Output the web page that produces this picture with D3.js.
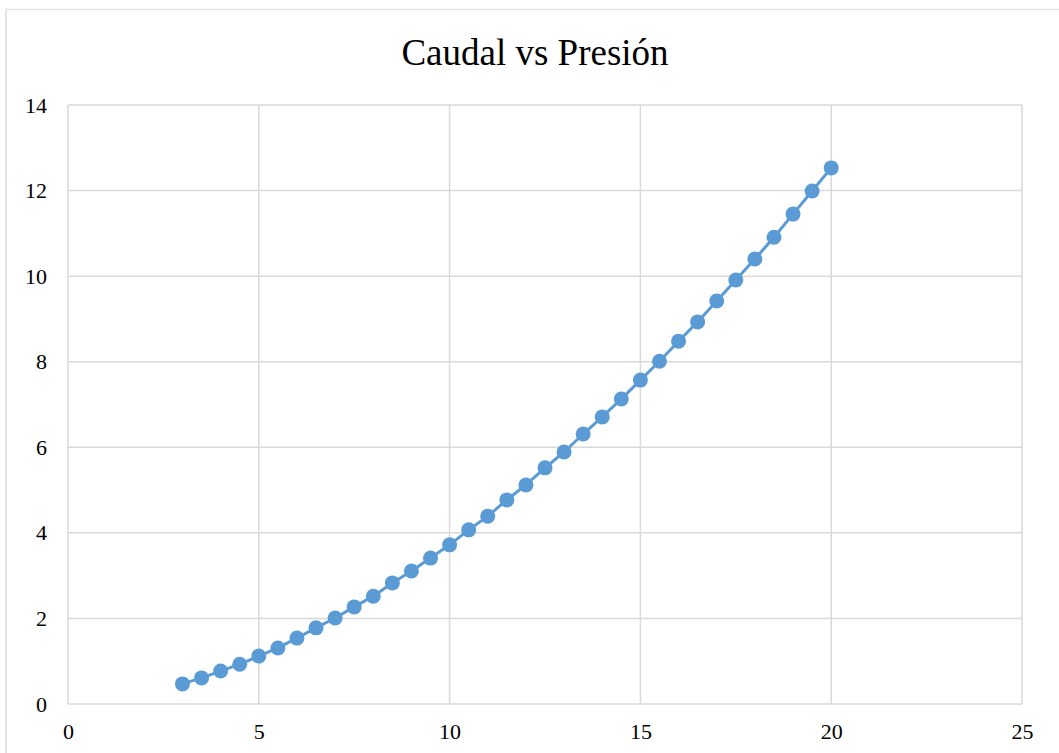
<!DOCTYPE html>
<html>
<head>
<meta charset="utf-8">
<script src="https://cdn.jsdelivr.net/npm/d3@7"></script>
<style>
  html, body { margin: 0; padding: 0; background: #fff; }
  svg { display: block; }
</style>
</head>
<body>
<svg id="chart" width="1059" height="753"></svg>
<script>
// Presión (x) and Caudal (y) readings
const presion = [3, 3.5, 4, 4.5, 5, 5.5, 6, 6.5, 7, 7.5, 8, 8.5, 9, 9.5, 10, 10.5, 11, 11.5,
  12, 12.5, 13, 13.5, 14, 14.5, 15, 15.5, 16, 16.5, 17, 17.5, 18, 18.5, 19, 19.5, 20];
const caudal = [0.47, 0.61, 0.77, 0.93, 1.12, 1.31, 1.54, 1.78, 2.01, 2.27, 2.52, 2.83, 3.11,
  3.41, 3.72, 4.07, 4.39, 4.77, 5.12, 5.52, 5.89, 6.31, 6.71, 7.13, 7.57, 8.01, 8.48, 8.93,
  9.42, 9.91, 10.40, 10.91, 11.45, 11.99, 12.53];
const xTicks = [0, 5, 10, 15, 20, 25];
const yTicks = [0, 2, 4, 6, 8, 10, 12, 14];
const title = "Caudal vs Presión";

const svg = d3.select("#chart");
const W = 1059, H = 753;
const plot = { left: 68, right: 1022, top: 105, bottom: 704 };
const grid = "#d9d9d9";
const blue = "#5b9bd5";
const font = "'Liberation Serif', 'Times New Roman', serif";

// chart frame
svg.append("line").attr("x1", 6).attr("x2", 6).attr("y1", 9).attr("y2", H)
  .attr("stroke", "#e3e3e3").attr("stroke-width", 2);
svg.append("line").attr("x1", 5).attr("x2", W).attr("y1", 9.5).attr("y2", 9.5)
  .attr("stroke", "#e3e3e3").attr("stroke-width", 1.5);

const x = d3.scaleLinear().domain([0, 25]).range([plot.left, plot.right]);
const y = d3.scaleLinear().domain([0, 14]).range([plot.bottom, plot.top]);

// gridlines
svg.append("g").selectAll("line").data(xTicks).join("line")
  .attr("x1", d => x(d)).attr("x2", d => x(d))
  .attr("y1", plot.top).attr("y2", plot.bottom)
  .attr("stroke", grid).attr("stroke-width", 1.5);
svg.append("g").selectAll("line").data(yTicks).join("line")
  .attr("x1", plot.left).attr("x2", plot.right)
  .attr("y1", d => y(d)).attr("y2", d => y(d))
  .attr("stroke", grid).attr("stroke-width", 1.5);

// axes (labels only)
const xAxis = svg.append("g").attr("transform", `translate(0,${plot.bottom})`)
  .call(d3.axisBottom(x).tickValues(xTicks).tickSize(0).tickPadding(19));
const yAxis = svg.append("g").attr("transform", `translate(${plot.left},0)`)
  .call(d3.axisLeft(y).tickValues(yTicks).tickSize(0).tickPadding(21));
[xAxis, yAxis].forEach(g => {
  g.attr("font-family", font).attr("font-size", 22);
  g.select(".domain").remove();
  g.selectAll("text").attr("fill", "#000");
});

// series line and markers
const pts = presion.map((p, i) => [p, caudal[i]]);
svg.append("path").datum(pts)
  .attr("fill", "none").attr("stroke", blue).attr("stroke-width", 3)
  .attr("stroke-linejoin", "round")
  .attr("d", d3.line().x(d => x(d[0])).y(d => y(d[1])));
svg.append("g").selectAll("circle").data(pts).join("circle")
  .attr("cx", d => x(d[0])).attr("cy", d => y(d[1])).attr("r", 7.5)
  .attr("fill", blue);

// title
svg.append("text").attr("x", 535).attr("y", 65).attr("text-anchor", "middle")
  .attr("font-family", font).attr("font-size", 37).attr("fill", "#000")
  .text(title);
</script>
</body>
</html>
